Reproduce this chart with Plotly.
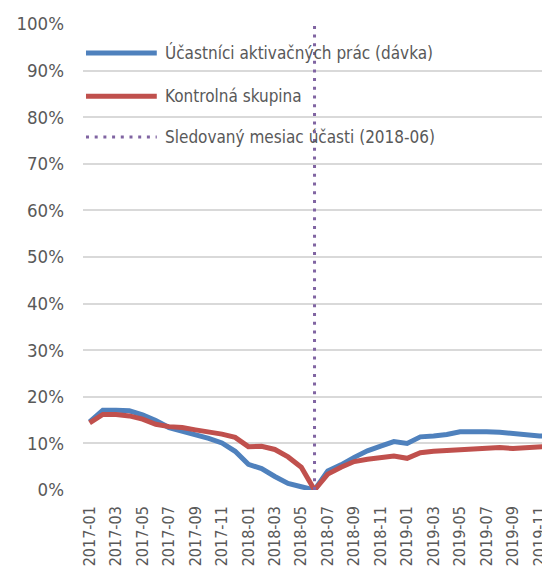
import plotly.graph_objects as go

months = ["2017-01", "2017-02", "2017-03", "2017-04", "2017-05", "2017-06",
          "2017-07", "2017-08", "2017-09", "2017-10", "2017-11", "2017-12",
          "2018-01", "2018-02", "2018-03", "2018-04", "2018-05", "2018-06",
          "2018-07", "2018-08", "2018-09", "2018-10", "2018-11", "2018-12",
          "2019-01", "2019-02", "2019-03", "2019-04", "2019-05", "2019-06",
          "2019-07", "2019-08", "2019-09", "2019-10", "2019-11", "2019-12"]

ucastnici = [14.6, 17.1, 17.1, 17.0, 16.1, 14.9, 13.4, 12.7, 11.9, 11.1, 10.1, 8.3,
             5.5, 4.6, 2.9, 1.4, 0.7, 0.0, 4.1, 5.4, 7.0, 8.4, 9.4, 10.4,
             10.0, 11.4, 11.6, 11.9, 12.5, 12.6, 12.5, 12.4, 12.1, 11.8, 11.6, 11.6]

kontrolna = [14.4, 16.2, 16.2, 15.9, 15.2, 14.1, 13.6, 13.4, 12.9, 12.5, 12.0, 11.3,
             9.3, 9.4, 8.7, 7.1, 4.9, 0.0, 3.4, 4.9, 6.1, 6.6, 7.0, 7.3,
             6.8, 8.0, 8.3, 8.5, 8.6, 8.9, 9.1, 9.1, 8.9, 9.1, 9.3, 9.4]

sledovany_mesiac = "2018-06"
marker_y = [0, 100]

tick_months = months[::2]

names = ["Účastníci aktivačných prác (dávka)", "Kontrolná skupina",
         "Sledovaný mesiac účasti (2018-06)"]
colors = ["#4F81BD", "#C0504D", "#8064A2"]

FONT = "DejaVu Sans Condensed, Liberation Sans Narrow, sans-serif"
GREY = "#595959"
DOTS = "3px,5.7px"

fig = go.Figure()
fig.add_trace(go.Scatter(x=months, y=ucastnici, mode="lines", name=names[0],
                         line=dict(color=colors[0], width=5), showlegend=False))
fig.add_trace(go.Scatter(x=months, y=kontrolna, mode="lines", name=names[1],
                         line=dict(color=colors[1], width=5), showlegend=False))
fig.add_trace(go.Scatter(x=[sledovany_mesiac] * 2, y=marker_y, mode="lines", name=names[2],
                         line=dict(color=colors[2], width=3, dash=DOTS), showlegend=False))

# hand-made legend (longer symbol lines than plotly's built-in legend)
legend_y = [0.938, 0.845, 0.7575]
for name, color, ly, style in zip(names, colors, legend_y, ["solid", "solid", DOTS]):
    fig.add_shape(type="line", xref="paper", yref="paper", x0=0.0064, x1=0.158, y0=ly, y1=ly,
                  line=dict(color=color, width=5 if style == "solid" else 3, dash=style))
    fig.add_annotation(text=name, xref="paper", yref="paper", x=0.171, y=ly,
                       xanchor="left", yanchor="middle", showarrow=False,
                       font=dict(family=FONT, size=17, color=GREY))

# the page body has an 8px margin, so the figure is 8px smaller and shifted
fig.update_layout(
    width=542, height=558,
    margin=dict(l=75, r=0, t=16, b=76),
    paper_bgcolor="white", plot_bgcolor="white",
    font=dict(family=FONT, size=18, color=GREY),
    showlegend=False,
)
fig.update_xaxes(type="category", categoryorder="array", categoryarray=months,
                 range=[-0.5, 34.8], tickmode="array", tickvals=tick_months,
                 ticktext=tick_months, tickangle=-90, tickfont=dict(size=16),
                 showgrid=False, zeroline=False, showline=False, ticks="",
                 ticklabelstandoff=12, automargin=False)
fig.update_yaxes(range=[0, 100], dtick=10, ticksuffix="%", showgrid=True,
                 gridcolor="#D9D9D9", gridwidth=1.5, zeroline=False, showline=False,
                 ticks="", ticklabelstandoff=18, tickfont=dict(size=18.5),
                 automargin=False)

fig.write_html("out.html")
